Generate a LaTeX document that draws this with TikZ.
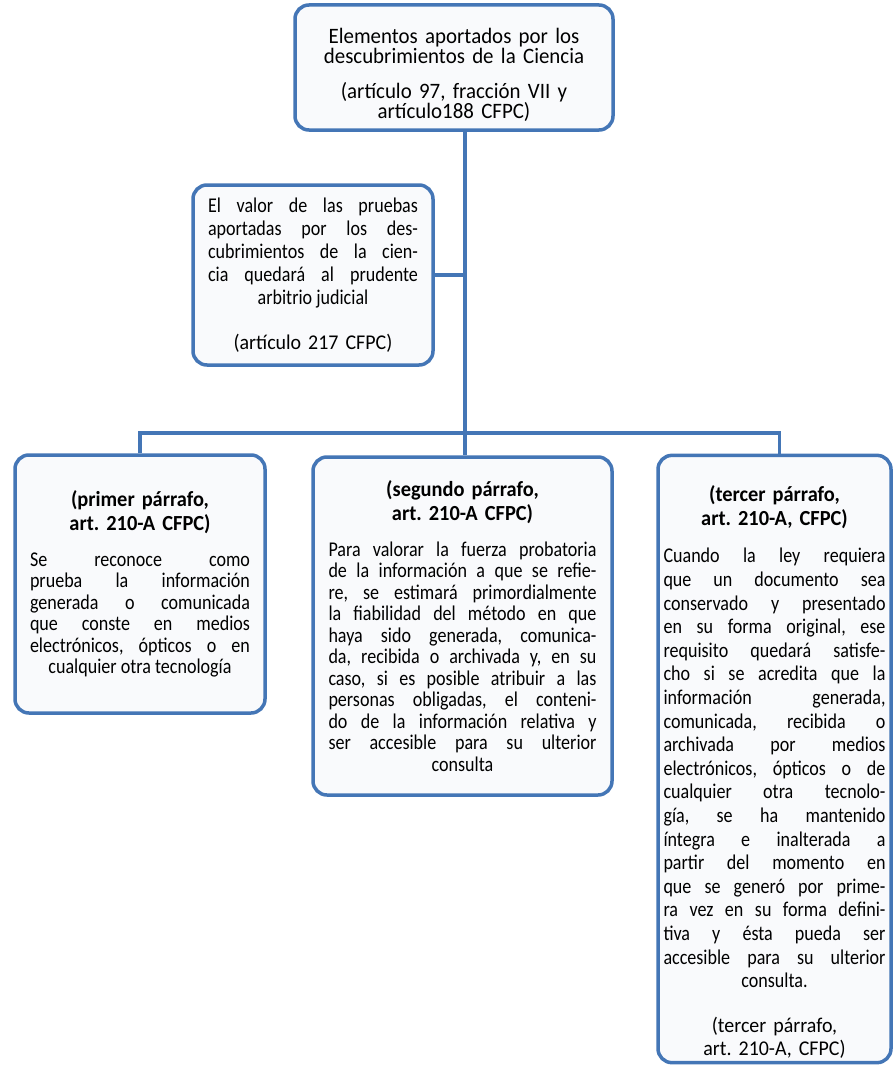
\documentclass[tikz,border=0pt]{standalone}
\usepackage{fontspec}
\setmainfont{Carlito}[FakeStretch=0.86]
\newfontfamily\topfont{Carlito}[FakeStretch=0.95]
\frenchspacing
\definecolor{boxblue}{RGB}{68,118,182}
\definecolor{boxfill}{RGB}{249,250,252}
% justified lines, last line centred
\newcommand{\jtext}[1]{{\leftskip=0pt plus 1fil\rightskip=0pt plus -1fil\parfillskip=0pt plus 2fil\spaceskip=0pt\xspaceskip=0pt\hyphenpenalty=10000\tolerance=9999\parindent=0pt #1\par}}
\newcommand{\head}[1]{{\topfont\fontsize{21.5}{24}\selectfont\bfseries #1\par}}
\newcommand{\foot}[1]{{\topfont\fontsize{21}{23}\selectfont #1\par}}
\begin{document}
\begin{tikzpicture}[x=1pt,y=-1pt,
    box/.style={draw=boxblue,line width=3.5pt,rounded corners=14pt,fill=boxfill,align=center,inner sep=4pt,font=\fontsize{21}{21.5}\selectfont},
    link/.style={draw=boxblue,line width=3.5pt}]
  \useasboundingbox[fill=white] (0,0) rectangle (894,1065);

  \node[box,minimum width=318pt,minimum height=125pt,text width=300pt,font=\topfont\fontsize{22}{20.5}\selectfont] at (454,67.5) (elem)
    {\par\vspace*{10pt}Elementos aportados por los\\ descubrimientos de la Ciencia\\[14pt] (artículo 97, fracción VII y\\ artículo188 CFPC)};
  \node[box,minimum width=240pt,minimum height=180pt,text width=210pt,font=\fontsize{21}{23}\selectfont] at (313,275) (valor)
    {\jtext{El valor de las pruebas\linebreak aportadas por los des-\linebreak cubrimientos de la cien-\linebreak cia quedará al prudente\linebreak arbitrio judicial}\vspace{22pt}\foot{(artículo 217 CFPC)}};

  \node[box,minimum width=250pt,minimum height=258pt,text width=220pt] at (140,584) (primer)
    {\head{(primer párrafo,\\ art. 210-A CFPC)}\vspace{14pt}%
     \jtext{Se reconoce como\linebreak prueba la información\linebreak generada o comunicada\linebreak que conste en medios\linebreak electrónicos, ópticos o en\linebreak cualquier otra tecnología}\vspace*{10pt}};
  \node[box,minimum width=299pt,minimum height=338pt,text width=268pt] at (462.5,626) (segundo)
    {\head{(segundo párrafo,\\ art. 210-A CFPC)}\vspace{14pt}%
     \jtext{Para valorar la fuerza probatoria\linebreak de la información a que se refie-\linebreak re, se estimará primordialmente\linebreak la fiabilidad del método en que\linebreak haya sido generada, comunica-\linebreak da, recibida o archivada y, en su\linebreak caso, si es posible atribuir a las\linebreak personas obligadas, el conteni-\linebreak do de la información relativa y\linebreak ser accesible para su ulterior\linebreak consulta}};
  \node[box,minimum width=233pt,minimum height=604pt,text width=222pt,font=\fontsize{21}{23.6}\selectfont] at (774.5,759) (tercer)
    {\par\vspace*{18pt}\head{(tercer párrafo,\\ art. 210-A, CFPC)}\vspace{14pt}%
     \jtext{Cuando la ley requiera\linebreak que un documento sea\linebreak conservado y presentado\linebreak en su forma original, ese\linebreak requisito quedará satisfe-\linebreak cho si se acredita que la\linebreak información generada,\linebreak comunicada, recibida o\linebreak archivada por medios\linebreak electrónicos, ópticos o de\linebreak cualquier otra tecnolo-\linebreak gía, se ha mantenido\linebreak íntegra e inalterada a\linebreak partir del momento en\linebreak que se generó por prime-\linebreak ra vez en su forma defini-\linebreak tiva y ésta pueda ser\linebreak accesible para su ulterior\linebreak consulta.}\vspace{22pt}%
     \foot{(tercer párrafo,\\ art. 210-A, CFPC)}};

  \coordinate (split) at (465,433);
  \draw[link] (elem.south -| split) -- (split);
  \draw[link] (valor.east) -- (valor.east -| split);
  \draw[link] (primer.north) |- (split) -| (segundo.north -| split);
  \draw[link] (split) -| ([xshift=5pt]tercer.north);
\end{tikzpicture}
\end{document}
